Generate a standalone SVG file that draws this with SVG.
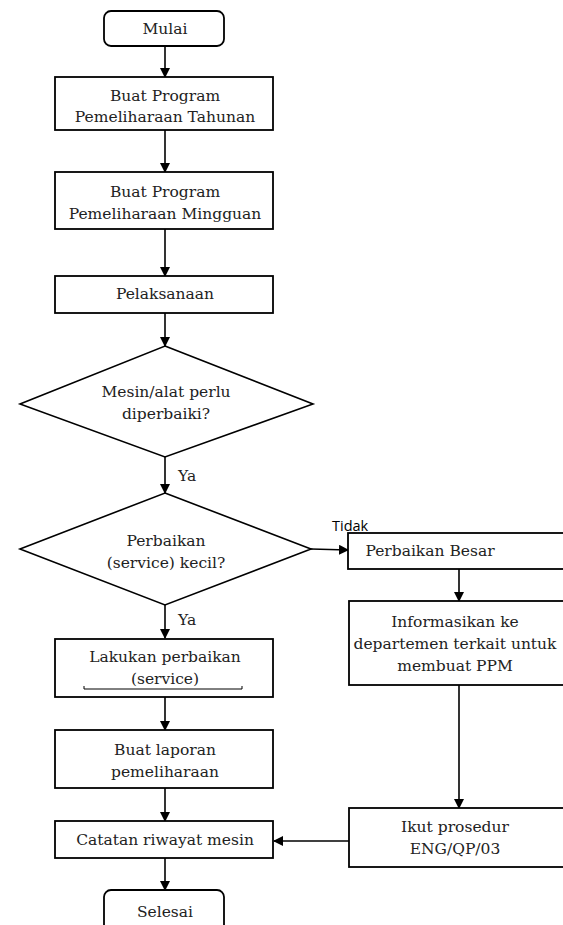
<svg xmlns="http://www.w3.org/2000/svg" width="563" height="925" viewBox="0 0 563 925">
<defs>
<marker id="ah" markerWidth="10" markerHeight="10" refX="9" refY="5" orient="auto" markerUnits="userSpaceOnUse">
<path d="M0,0 L10,5 L0,10 Z" fill="#000"/>
</marker>
<style>
.box{fill:#fff;stroke:#000;stroke-width:1.8}
.dia{fill:#fff;stroke:#000;stroke-width:1.6}
.t{font-family:"DejaVu Serif",serif;font-size:15.5px;fill:#222;text-anchor:middle}
.s{font-family:"Open Sans","Noto Sans",sans-serif;font-size:14.5px;fill:#000}
.c{stroke:#000;stroke-width:1.6;fill:none;marker-end:url(#ah)}
</style>
</defs>
<rect width="563" height="925" fill="#fff"/>
<g id="connectors">
<line class="c" x1="165" y1="46" x2="165" y2="77"/>
<line class="c" x1="165" y1="130" x2="165" y2="172"/>
<line class="c" x1="165" y1="229" x2="165" y2="276"/>
<line class="c" x1="165" y1="313" x2="165" y2="346"/>
<line class="c" x1="165" y1="457" x2="165" y2="493"/>
<line class="c" x1="165" y1="605" x2="165" y2="638"/>
<line class="c" x1="165" y1="697" x2="165" y2="730"/>
<line class="c" x1="165" y1="788" x2="165" y2="821"/>
<line class="c" x1="165" y1="858" x2="165" y2="890"/>
<line class="c" x1="311" y1="549" x2="348" y2="550"/>
<line class="c" x1="459" y1="569" x2="459" y2="601"/>
<line class="c" x1="459" y1="685" x2="459" y2="808"/>
<line class="c" x1="349" y1="841" x2="274" y2="841"/>
<text class="t" x="178" y="481" style="text-anchor:start">Ya</text>
<text class="t" x="178" y="625" style="text-anchor:start">Ya</text>
</g>
<g id="mulai">
<rect class="box" x="104" y="11" width="120" height="35" rx="7"/>
<text class="t" x="165" y="34">Mulai</text>
</g>
<g id="tahunan">
<rect class="box" x="55" y="77" width="218" height="53"/>
<text class="t" x="165" y="101">Buat Program</text>
<text class="t" x="165" y="122">Pemeliharaan Tahunan</text>
</g>
<g id="mingguan">
<rect class="box" x="55" y="172" width="218" height="57"/>
<text class="t" x="165" y="197">Buat Program</text>
<text class="t" x="165" y="219">Pemeliharaan Mingguan</text>
</g>
<g id="pelaksanaan">
<rect class="box" x="55" y="276" width="218" height="37"/>
<text class="t" x="165" y="299">Pelaksanaan</text>
</g>
<g id="perlu">
<polygon class="dia" points="165,346 313,404 165,457 20,404"/>
<text class="t" x="166" y="397">Mesin/alat perlu</text>
<text class="t" x="166" y="419">diperbaiki?</text>
</g>
<g id="kecil">
<polygon class="dia" points="165,493 311,549 165,605 20,549"/>
<text class="t" x="166" y="546">Perbaikan</text>
<text class="t" x="166" y="568">(service) kecil?</text>
</g>
<g id="lakukan">
<rect class="box" x="55" y="639" width="218" height="58"/>
<text class="t" x="165" y="662">Lakukan perbaikan</text>
<text class="t" x="165" y="684">(service)</text>
<path d="M84,686 L84,689 L242,689 L242,686" fill="none" stroke="#000" stroke-width="1"/>
</g>
<g id="laporan">
<rect class="box" x="55" y="730" width="218" height="58"/>
<text class="t" x="165" y="755">Buat laporan</text>
<text class="t" x="165" y="777">pemeliharaan</text>
</g>
<g id="catatan">
<rect class="box" x="55" y="821" width="218" height="37"/>
<text class="t" x="165" y="845">Catatan riwayat mesin</text>
</g>
<g id="selesai">
<rect class="box" x="104" y="890" width="120" height="45" rx="7"/>
<text class="t" x="165" y="917">Selesai</text>
</g>
<g id="besar">
<rect class="box" x="348" y="533" width="225" height="36"/>
<text class="t" x="430" y="556">Perbaikan Besar</text>
</g>
<g id="informasikan">
<rect class="box" x="349" y="601" width="225" height="84"/>
<text class="t" x="455" y="627">Informasikan ke</text>
<text class="t" x="455" y="649">departemen terkait untuk</text>
<text class="t" x="455" y="671">membuat PPM</text>
</g>
<g id="ikut">
<rect class="box" x="349" y="808" width="225" height="59"/>
<text class="t" x="455" y="832">Ikut prosedur</text>
<text class="t" x="455" y="854">ENG/QP/03</text>
</g>
<g id="label-tidak">
<text class="s" x="332" y="531">Tidak</text>
</g>
</svg>
